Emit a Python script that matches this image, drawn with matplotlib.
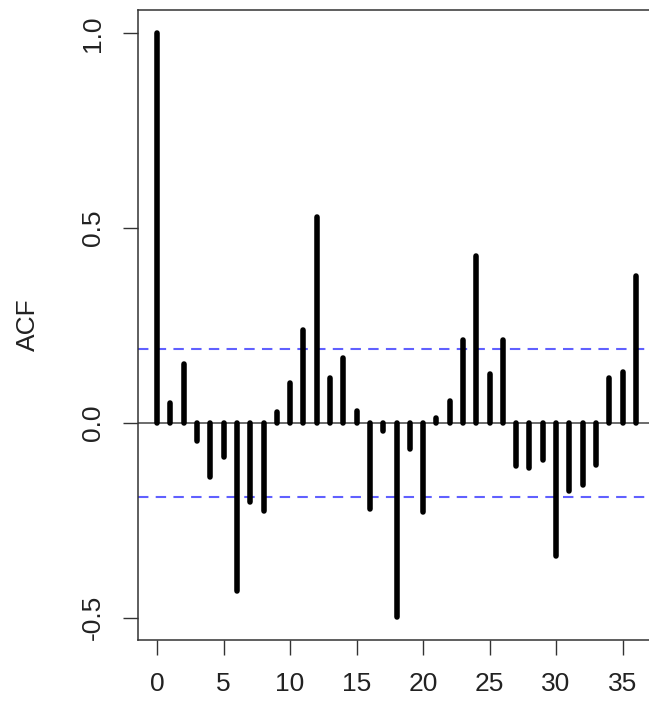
import matplotlib
matplotlib.use("Agg")
import matplotlib.pyplot as plt
import numpy as np

# ACF values, lag 0..36
lags = np.arange(0, 37)
acf = [1.000, 0.052, 0.152, -0.045, -0.138, -0.087, -0.432, -0.202, -0.225,
       0.028, 0.102, 0.238, 0.528, 0.116, 0.168, 0.032, -0.222, -0.020,
       -0.497, -0.066, -0.228, 0.013, 0.056, 0.213, 0.428, 0.127, 0.214,
       -0.111, -0.116, -0.094, -0.342, -0.175, -0.160, -0.109, 0.116, 0.130,
       0.378]
conf = 0.189  # 95% band
xticks = [0, 5, 10, 15, 20, 25, 30, 35]
yticks = [-0.5, 0.0, 0.5, 1.0]
ytick_labels = ["-0.5", "0.0", "0.5", "1.0"]

plt.rcParams['font.family'] = ['Liberation Sans', 'DejaVu Sans']

W, H = 649, 702
fig = plt.figure(figsize=(W / 100, H / 100), dpi=100)
# plot region runs past the right edge (picture is cropped there)
left, right, top, bottom = 138, 655, 10, 640
ax = fig.add_axes([left / W, 1 - bottom / H, (right - left) / W, (bottom - top) / H])

ax.set_xlim(-1.44, 37.44)
ax.set_ylim(-0.557, 1.06)

bars = ax.vlines(lags, 0, acf, colors='black', linewidth=4.0)
bars.set_capstyle('round')
ax.axhline(0, color='#444444', linewidth=1.1, zorder=1)
for c in (conf, -conf):
    ax.axhline(c, color='#6060ff', linewidth=1.5, dashes=(5, 3.5), zorder=0.5)

for s in ax.spines.values():
    s.set_linewidth(1.1)
    s.set_color('#333333')
ax.spines['right'].set_visible(False)

ax.set_xticks(xticks)
ax.set_xticklabels([str(t) for t in xticks])
ax.set_yticks(yticks)
ax.set_yticklabels(ytick_labels, rotation=90, va='center')
ax.tick_params(axis='both', length=11, width=1.0, color='#333333',
               labelsize=19, labelcolor='#222222')
ax.tick_params(axis='x', pad=12)
ax.tick_params(axis='y', pad=13)

fig.text(28 / W, 1 - 325 / H, "ACF", rotation=90, ha='center', va='center',
         fontsize=19, color='#222222')

fig.savefig("out.png", dpi=100)
